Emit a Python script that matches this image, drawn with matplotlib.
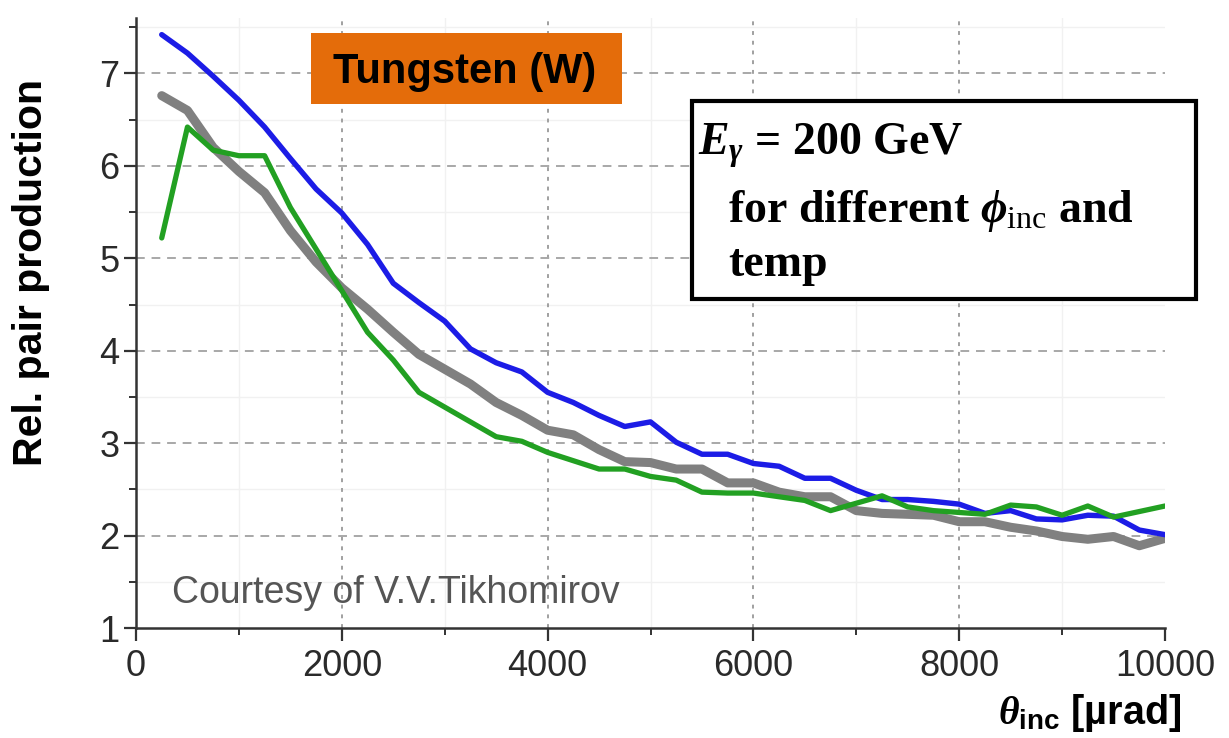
import matplotlib
matplotlib.use("Agg")
import matplotlib.pyplot as plt
from matplotlib.patches import Rectangle
from matplotlib.ticker import MultipleLocator

# ---- data ----
theta = [250, 500, 750, 1000, 1250, 1500, 1750, 2000, 2250, 2500,
         2750, 3000, 3250, 3500, 3750, 4000, 4250, 4500, 4750, 5000,
         5250, 5500, 5750, 6000, 6250, 6500, 6750, 7000, 7250, 7500,
         7750, 8000, 8250, 8500, 8750, 9000, 9250, 9500, 9750, 10000]

blue = [7.42, 7.22, 6.97, 6.71, 6.42, 6.08, 5.75, 5.49, 5.15, 4.73,
        4.52, 4.32, 4.02, 3.87, 3.77, 3.55, 3.44, 3.30, 3.18, 3.23,
        3.01, 2.88, 2.88, 2.78, 2.75, 2.62, 2.62, 2.49, 2.39, 2.39,
        2.37, 2.34, 2.24, 2.27, 2.18, 2.17, 2.22, 2.21, 2.06, 2.01]

gray = [6.76, 6.60, 6.20, 5.94, 5.71, 5.30, 4.96, 4.68, 4.45, 4.20,
        3.96, 3.80, 3.64, 3.44, 3.30, 3.14, 3.09, 2.93, 2.80, 2.79,
        2.72, 2.72, 2.57, 2.57, 2.47, 2.42, 2.42, 2.27, 2.24, 2.23,
        2.22, 2.15, 2.15, 2.09, 2.05, 1.99, 1.96, 1.99, 1.89, 1.97]

green = [5.22, 6.42, 6.17, 6.11, 6.11, 5.55, 5.10, 4.65, 4.20, 3.90,
         3.55, 3.39, 3.23, 3.07, 3.02, 2.90, 2.81, 2.72, 2.72, 2.64,
         2.60, 2.47, 2.46, 2.46, 2.42, 2.38, 2.27, 2.35, 2.43, 2.31,
         2.27, 2.25, 2.23, 2.33, 2.31, 2.22, 2.32, 2.20, 2.26, 2.32]

x_ticks = [0, 2000, 4000, 6000, 8000, 10000]
y_ticks = [1, 2, 3, 4, 5, 6, 7]
x_grid = [2000, 4000, 6000, 8000]
y_grid = [2, 3, 4, 5, 6, 7]

title_text = "Tungsten (W)"
credit_text = "Courtesy of V.V.Tikhomirov"
ylabel_text = "Rel. pair production"

# ---- fonts ----
plt.rcParams['font.family'] = ['Liberation Sans', 'DejaVu Sans']
plt.rcParams['mathtext.fontset'] = 'custom'
plt.rcParams['mathtext.rm'] = 'Liberation Serif'
plt.rcParams['mathtext.it'] = 'Liberation Serif:italic:bold'
plt.rcParams['mathtext.bf'] = 'Liberation Sans:bold'

W, H = 1229, 738
fig = plt.figure(figsize=(W / 100, H / 100), dpi=100)

def fx(px):
    return px / W

def fy(py):
    return 1 - py / H

ax = fig.add_axes([fx(136), fy(628), fx(1165) - fx(136), fy(18) - fy(628)])
ax.set_xlim(0, 10000)
ax.set_ylim(1, 7.6)

# faint minor grid
ax.set_xticks(x_ticks)
ax.set_yticks(y_ticks)
ax.xaxis.set_minor_locator(MultipleLocator(1000))
ax.yaxis.set_minor_locator(MultipleLocator(0.5))
ax.grid(True, which='minor', color='#f1f1f1', linestyle='-', linewidth=1.0)
ax.set_axisbelow(True)

# dashed major grid (vertical dotted, horizontal dashed)
for gx in x_grid:
    ax.axvline(gx, color='#a0a0a0', linestyle=(0, (2, 3)), linewidth=1.4, zorder=1)
for gy in y_grid:
    ax.axhline(gy, color='#a8a8a8', linestyle=(0, (4.5, 3.5)), linewidth=1.4, zorder=1)

# curves
ax.plot(theta, gray, color='#808080', linewidth=6.5, solid_capstyle='round', solid_joinstyle='round', zorder=3)
ax.plot(theta, blue, color='#1c1ce6', linewidth=3.9, solid_capstyle='round', solid_joinstyle='round', zorder=4)
ax.plot(theta, green, color='#22a022', linewidth=3.8, solid_capstyle='round', solid_joinstyle='round', zorder=5)

# spines & ticks
for s in ['top', 'right']:
    ax.spines[s].set_visible(False)
for s in ['left', 'bottom']:
    ax.spines[s].set_color('#333333')
    ax.spines[s].set_linewidth(1.8)
ax.tick_params(which='major', direction='out', length=9, width=1.6, color='#333333',
               labelsize=26, labelcolor='#2a2a2a')
ax.tick_params(axis='y', which='major', pad=3)
ax.tick_params(axis='x', which='major', pad=6)
ax.tick_params(which='minor', direction='out', length=5, width=1.4, color='#333333')
ax.set_xticklabels([str(v) for v in x_ticks])
ax.set_yticklabels([str(v) for v in y_ticks])

# y label
fig.text(fx(31), fy(272), ylabel_text, rotation=90, ha='center', va='center',
         fontsize=29.5, fontweight='bold', color='black')

# x label
fig.text(fx(1181), fy(724), r'$\theta_{\mathbf{inc}}$ [µrad]', ha='right', va='baseline',
         fontsize=28.5, fontweight='bold', color='black')

# credit
fig.text(fx(172), fy(603), credit_text, ha='left', va='baseline',
         fontsize=27, color='#555555')

# orange title box
fig.patches.append(Rectangle((fx(311), fy(104)), fx(622) - fx(311), fy(33) - fy(104),
                             transform=fig.transFigure, facecolor='#e46c0a',
                             edgecolor='none', zorder=10))
fig.text(fx(465), fy(83), title_text, ha='center', va='baseline',
         fontsize=30, fontweight='bold', color='black', zorder=11)

# info box
fig.patches.append(Rectangle((fx(692), fy(299)), fx(1196) - fx(692), fy(101) - fy(299),
                             transform=fig.transFigure, facecolor='white',
                             edgecolor='black', linewidth=3, zorder=10))
serif = ['Liberation Serif', 'DejaVu Serif']
fig.text(fx(698), fy(155), r'$E_{\gamma}$ = 200 GeV', ha='left', va='baseline',
         fontsize=33, fontweight='bold', family=serif, zorder=11)
fig.text(fx(728), fy(222), r'for different $\phi_{\mathrm{inc}}$ and', ha='left', va='baseline',
         fontsize=33, fontweight='bold', family=serif, zorder=11)
fig.text(fx(728), fy(276), 'temp', ha='left', va='baseline',
         fontsize=33, fontweight='bold', family=serif, zorder=11)

fig.savefig('out.png', dpi=100)
